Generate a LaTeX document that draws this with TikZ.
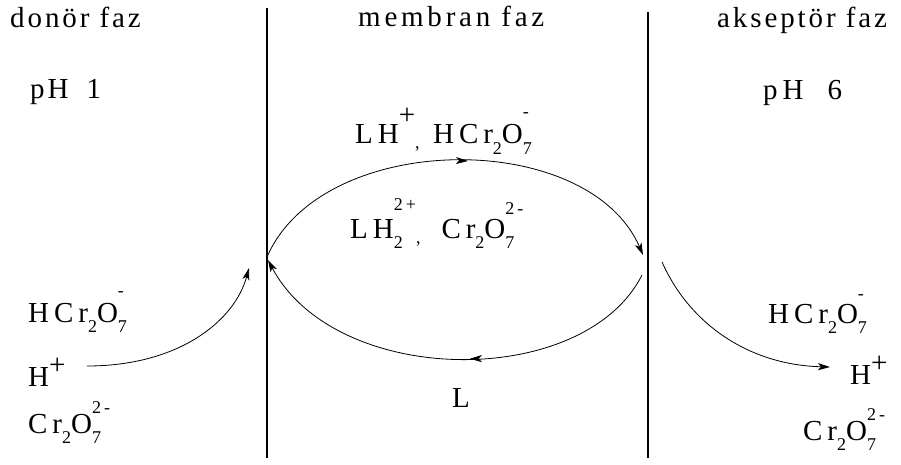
\documentclass[tikz,border=0pt]{standalone}
\usepackage{fontspec}
\setmainfont{Liberation Serif}[LetterSpace=10]
\newfontfamily\chemf{Liberation Serif}[LetterSpace=17]
\newfontfamily\membf{Liberation Serif}[LetterSpace=13]
\usetikzlibrary{arrows.meta,decorations.markings}
\newcommand\bigf{\fontsize{29}{29}\selectfont}
\newcommand\smf{\fontsize{18}{18}\selectfont}
\newcommand\dn[2][10pt]{\raisebox{-#1}{\smf #2}}
\newcommand\up[2][20pt]{\raisebox{#1}{\smf #2}}
\newcommand\plusup[1][12pt]{\raisebox{#1}{+}}
\tikzset{
  lbl/.style={anchor=base west,inner sep=0pt,font=\bigf},
  chem/.style={anchor=base west,inner sep=0pt,font=\chemf\bigf},
  wall/.style={line width=1.6pt},
  flow/.style={line width=0.8pt},
  tip/.style={-{Stealth[length=12pt,width=7pt,inset=3pt]}},
  midarrow/.style={postaction={decorate},decoration={markings,mark=at position #1 with {\arrow{Stealth[length=12pt,width=7pt,inset=3pt]}}}}
}
\begin{document}
\begin{tikzpicture}[x=1pt,y=-1pt]
\useasboundingbox (0,0) rectangle (901,465);
% walls
\coordinate (w1t) at (267,8);  \coordinate (w1b) at (267,458);
\coordinate (w2t) at (648,12); \coordinate (w2b) at (648,458);
\draw[wall] (w1t) -- (w1b);
\draw[wall] (w2t) -- (w2b);
% headings
\node[lbl] (donor) at (10,28) {donör faz};
\node[lbl,font=\membf\bigf] (memb) at (358,27) {membran faz};
\node[lbl] (akse) at (717,28) {akseptör faz};
\node[lbl] (ph1) at (30,99) {pH\hspace{8pt} 1};
\node[chem] (ph6) at (763,100) {pH\hspace{12pt} 6};
% membrane species
\node[chem] (top1) at (355,144) {LH\plusup[19pt]\rlap{\dn[5pt]{,}}\hspace{18pt}HCr\dn{2}O\rlap{\dn{7}}\up[26pt]{-}};
\node[chem] (top2) at (350,238) {LH\rlap{\dn{2}}\up[28pt]{2+}\dn[5pt]{,}\hspace{21pt}Cr\dn{2}O\rlap{\dn{7}}\up[24pt]{2-}};
\node[lbl] (Lnode) at (452,407) {L};
% donor side
\node[chem] (lHCr) at (28,322) {HCr\dn{2}O\rlap{\dn{7}}\up[26pt]{-}};
\node[chem] (lHp) at (28,386) {H\plusup};
\node[chem] (lCr) at (28,433) {Cr\dn{2}O\rlap{\dn{7}}\up{2-}};
% acceptor side
\node[chem] (rHCr) at (768,323) {HCr\dn{2}O\rlap{\dn{7}}\up[24pt]{-}};
\node[chem] (rHp) at (850,384) {H\plusup};
\node[chem] (rCr) at (803,440) {Cr\dn{2}O\rlap{\dn{7}}\up{2-}};
% arc end points
\coordinate (lt) at (267,257);
\coordinate (rt) at (643,255);
\coordinate (rb) at (642,275);
\coordinate (lb) at (268,260);
\coordinate (la0) at (87,366);
\coordinate (la1) at (249,268);
\coordinate (ra0) at (662,262);
\coordinate (ra1) at (830,367);
% cycle
\draw[flow,tip,midarrow=0.53] (lt) .. controls (322,130) and (588,128) .. (rt);
\draw[flow,tip,midarrow=0.46] (rb) .. controls (584,390) and (336,388) .. (lb);
% transfers
\draw[flow,tip] (la0) .. controls (180,366) and (235,320) .. (la1);
\draw[flow,tip] (ra0) .. controls (690,325) and (750,365) .. (ra1);
\end{tikzpicture}
\end{document}
